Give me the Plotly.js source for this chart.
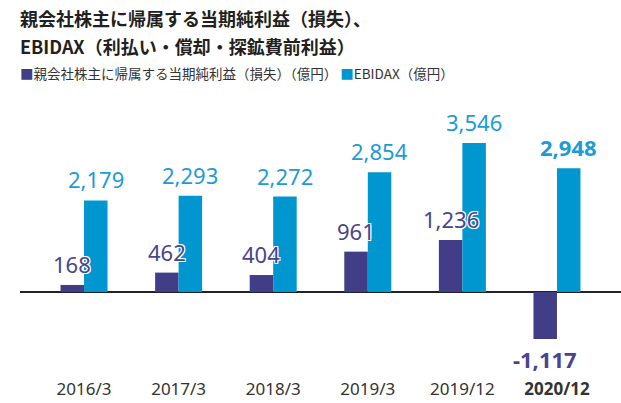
<!DOCTYPE html>
<html>
<head>
<meta charset="utf-8">
<script src="https://cdn.plot.ly/plotly-3.0.1.min.js"></script>
<style>html,body{margin:0;padding:0;background:#fff;}#chart{width:621px;height:403px;}</style>
</head>
<body>
<div id="chart"></div>
<script>
const categories = ["2016/3", "2017/3", "2018/3", "2019/3", "2019/12", "2020/12"];
const tickLabels = ["2016/3", "2017/3", "2018/3", "2019/3", "2019/12", "<b>2020/12</b>"];
const netIncome = [168, 462, 404, 961, 1236, -1117];
const ebidax = [2179, 2293, 2272, 2854, 3546, 2948];
const boldIndex = [5];

const seriesNames = ["親会社株主に帰属する当期純利益（損失）（億円）", "EBIDAX（億円）"];
const titleLines = ["親会社株主に帰属する当期純利益（損失）、", "EBIDAX（利払い・償却・探鉱費前利益）"];

const PURPLE = "#413d86";
const BLUE = "#0096cf";
const PURPLE_TXT = "#48448e";
const BLUE_TXT = "#1d9bd6";
const NUMFONT = "Noto Sans, Noto Sans CJK JP, sans-serif";
const JPFONT = "Noto Sans CJK JP, Noto Sans, sans-serif";
const HALO = "1px 1px 0 #fff, -1px -1px 0 #fff, 1px -1px 0 #fff, -1px 1px 0 #fff";

const fmt = v => v.toLocaleString("en-US");

const traces = [
  {type: "bar", x: categories, y: netIncome, name: seriesNames[0], marker: {color: PURPLE}, hoverinfo: "none"},
  {type: "bar", x: categories, y: ebidax, name: seriesNames[1], marker: {color: BLUE}, hoverinfo: "none"}
];

const PLOT_BOTTOM = 374, PLOT_H = 264;
const py = px => (PLOT_BOTTOM - px) / PLOT_H;

const annotations = [];
function addLabels(values, color, shift) {
  values.forEach((v, i) => {
    const bold = boldIndex.includes(i);
    const t = fmt(v);
    annotations.push({
      x: categories[i], y: v, xref: "x", yref: "y",
      text: bold ? "<b>" + t + "</b>" : t,
      showarrow: false,
      xanchor: "center",
      yanchor: v >= 0 ? "bottom" : "top",
      xshift: shift,
      yshift: v >= 0 ? 4 : -3,
      font: {family: NUMFONT, size: 22, color: color, shadow: HALO}
    });
  });
}
addLabels(netIncome, PURPLE_TXT, -11.8);
addLabels(ebidax, BLUE_TXT, 11.8);

titleLines.forEach((line, i) => {
  annotations.push({
    xref: "paper", yref: "paper", x: -2/601, y: py(i === 0 ? 18 : 46),
    xanchor: "left", yanchor: "middle", showarrow: false,
    text: "<b>" + line + "</b>",
    font: {family: JPFONT, size: 18, color: "#231f20"}
  });
});

annotations.push({
  xref: "paper", yref: "paper", x: -2/601, y: py(73),
  xanchor: "left", yanchor: "middle", showarrow: false,
  text: '<span style="color:' + PURPLE + '">■</span>' + seriesNames[0] + ' <span style="color:' + BLUE + '">■</span>' + seriesNames[1],
  font: {family: JPFONT, size: 13.5, color: "#333333"}
});

const layout = {
  width: 621, height: 403,
  margin: {l: 20, r: 0, t: 110, b: 29},
  paper_bgcolor: "#ffffff", plot_bgcolor: "#ffffff",
  showlegend: false,
  barmode: "group", bargap: 0.503, bargroupgap: 0,
  xaxis: {
    type: "category", range: [-0.677, 5.677],
    tickvals: categories, ticktext: tickLabels,
    showgrid: false, zeroline: false, showline: false, ticks: "",
    ticklabelstandoff: 3,
    tickfont: {family: NUMFONT, size: 17, color: "#333333"}
  },
  yaxis: {
    range: [-1952, 4333],
    showgrid: false, showticklabels: false, ticks: "", showline: false,
    zeroline: true, zerolinecolor: "#222222", zerolinewidth: 1.5
  },
  annotations: annotations
};

Plotly.newPlot("chart", traces, layout, {displayModeBar: false, staticPlot: true});
</script>
</body>
</html>
